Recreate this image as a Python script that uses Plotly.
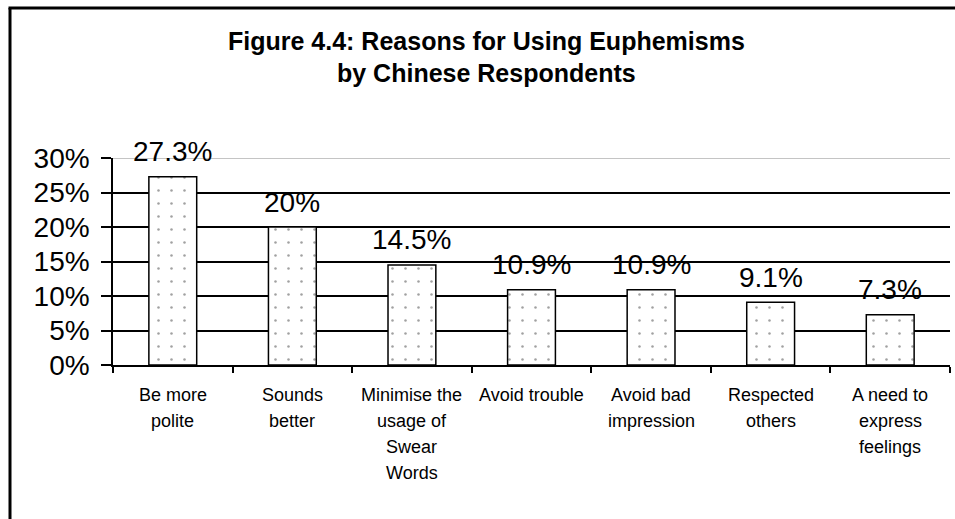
import plotly.graph_objects as go

categories = ["Be more polite", "Sounds better", "Minimise the usage of Swear Words",
              "Avoid trouble", "Avoid bad impression", "Respected others",
              "A need to express feelings"]
cat_lines = [["Be more", "polite"], ["Sounds", "better"],
             ["Minimise the", "usage of", "Swear", "Words"], ["Avoid trouble"],
             ["Avoid bad", "impression"], ["Respected", "others"],
             ["A need to", "express", "feelings"]]
values = [27.3, 20, 14.5, 10.9, 10.9, 9.1, 7.3]
value_labels = ["27.3%", "20%", "14.5%", "10.9%", "10.9%", "9.1%", "7.3%"]
y_ticks = [0, 5, 10, 15, 20, 25, 30]
y_tick_labels = ["0%", "5%", "10%", "15%", "20%", "25%", "30%"]
title_lines = ["Figure 4.4: Reasons for Using Euphemisms", "by Chinese Respondents"]

FONT = "Liberation Sans, Arial, sans-serif"
PW = 837.0
PH = 207.0

fig = go.Figure()
fig.add_trace(go.Bar(
    x=categories, y=values, width=0.4,
    marker=dict(color="white", line=dict(color="black", width=1.5),
                pattern=dict(shape=".", fgcolor="#444", bgcolor="white", size=13, solidity=0.03)),
    hoverinfo="skip",
))

annotations = []
for c, v, t in zip(categories, values, value_labels):
    annotations.append(dict(x=c, y=v, xref="x", yref="y", text=t, showarrow=False,
                            yanchor="middle", yshift=25,
                            font=dict(family=FONT, size=28, color="black")))
for c, lines in zip(categories, cat_lines):
    for i, ln in enumerate(lines):
        annotations.append(dict(x=c, y=0, xref="x", yref="paper", text=ln, showarrow=False,
                                yanchor="middle", yshift=-30 - 26 * i,
                                font=dict(family=FONT, size=18, color="black")))
for i, ln in enumerate(title_lines):
    annotations.append(dict(x=(486 - 113) / PW, y=1, xref="paper", yref="paper",
                            text="<b>" + ln + "</b>", xanchor="center",
                            showarrow=False, yanchor="middle", yshift=117 - 32 * i,
                            font=dict(family=FONT, size=25, color="black")))

fig.update_layout(
    width=955, height=519,
    margin=dict(l=113, r=5, t=158, b=154),
    paper_bgcolor="white", plot_bgcolor="white",
    showlegend=False,
    annotations=annotations,
    xaxis=dict(type="category", showticklabels=False, ticks="outside", tickson="boundaries",
               ticklen=6, tickwidth=1.5, tickcolor="black", showline=True, linecolor="black",
               linewidth=1.5, showgrid=False, zeroline=False),
    yaxis=dict(range=[0, 30], tickvals=y_ticks, ticktext=y_tick_labels, ticks="outside",
               ticklen=10, tickwidth=1.5, tickcolor="black", showline=True, linecolor="black",
               linewidth=1.5, showgrid=True, gridcolor="black", gridwidth=1.5, zeroline=False,
               ticklabelstandoff=6,
               tickfont=dict(family=FONT, size=28, color="black")),
    shapes=[
        dict(type="line", xref="paper", yref="y", x0=0, x1=1, y0=30, y1=30,
             line=dict(color="#b0b0b0", width=1.5), layer="above"),
        dict(type="line", xref="paper", yref="paper",
             x0=-103 / PW, x1=-103 / PW, y0=1 + 150 / PH, y1=-160 / PH,
             line=dict(color="black", width=3)),
        dict(type="line", xref="paper", yref="paper",
             x0=-104.5 / PW, x1=850 / PW, y0=1 + 150 / PH, y1=1 + 150 / PH,
             line=dict(color="black", width=3)),
    ],
)

fig.write_html("out.html")
